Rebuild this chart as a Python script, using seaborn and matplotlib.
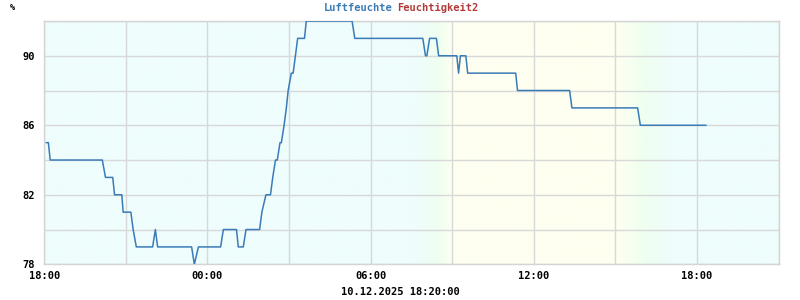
import numpy as np
import pandas as pd
import matplotlib
matplotlib.use("Agg")
import matplotlib.pyplot as plt
import matplotlib.dates as mdates
from matplotlib.colors import to_rgb
import seaborn as sns

# ---- data ----
times = [
    "2025-12-09 18:04", "2025-12-09 18:09", "2025-12-09 18:13", "2025-12-09 20:08",
    "2025-12-09 20:15", "2025-12-09 20:31", "2025-12-09 20:35", "2025-12-09 20:51",
    "2025-12-09 20:54", "2025-12-09 21:11", "2025-12-09 21:16", "2025-12-09 21:23",
    "2025-12-09 21:59", "2025-12-09 22:05", "2025-12-09 22:10", "2025-12-09 23:25",
    "2025-12-09 23:31", "2025-12-09 23:40", "2025-12-10 00:29", "2025-12-10 00:35",
    "2025-12-10 01:04", "2025-12-10 01:08", "2025-12-10 01:19", "2025-12-10 01:25",
    "2025-12-10 01:55", "2025-12-10 02:00", "2025-12-10 02:09", "2025-12-10 02:19",
    "2025-12-10 02:24", "2025-12-10 02:30", "2025-12-10 02:34", "2025-12-10 02:40",
    "2025-12-10 02:43", "2025-12-10 02:49", "2025-12-10 02:54", "2025-12-10 02:58",
    "2025-12-10 03:05", "2025-12-10 03:09", "2025-12-10 03:14", "2025-12-10 03:19",
    "2025-12-10 03:34", "2025-12-10 03:38", "2025-12-10 05:19", "2025-12-10 05:25",
    "2025-12-10 07:55", "2025-12-10 08:01", "2025-12-10 08:04", "2025-12-10 08:10",
    "2025-12-10 08:25", "2025-12-10 08:30", "2025-12-10 09:10", "2025-12-10 09:14",
    "2025-12-10 09:18", "2025-12-10 09:30", "2025-12-10 09:34", "2025-12-10 11:20",
    "2025-12-10 11:24", "2025-12-10 13:19", "2025-12-10 13:24", "2025-12-10 15:49",
    "2025-12-10 15:55", "2025-12-10 18:20",
]
humidity = [
    85, 85, 84, 84,
    83, 83, 82, 82,
    81, 81, 80, 79,
    79, 80, 79, 79,
    78, 79, 79, 80,
    80, 79, 79, 80,
    80, 81, 82, 82,
    83, 84, 84, 85,
    85, 86, 87, 88,
    89, 89, 90, 91,
    91, 92, 92, 91,
    91, 90, 90, 91,
    91, 90, 90, 89,
    90, 90, 89, 89,
    88, 88, 87, 87,
    86, 86,
]
title_left = "Luftfeuchte"
title_right = "Feuchtigkeit2"
y_unit = "%"
timestamp = "10.12.2025 18:20:00"
x_start = "2025-12-09 18:00"
x_end = "2025-12-10 21:00"
y_min, y_max = 78, 92
y_label_ticks = [78, 82, 86, 90]

# background day/night gradient stops
bg_times = ["2025-12-09 18:00", "2025-12-10 07:35", "2025-12-10 08:30", "2025-12-10 09:00",
            "2025-12-10 15:05", "2025-12-10 16:05", "2025-12-10 17:05", "2025-12-10 21:00"]
bg_colors = ["#effdfd", "#effdfd", "#eefff0", "#fefff0",
             "#fefff0", "#eefff0", "#effdfd", "#effdfd"]

# ---- plot ----
sns.set_style("white")
plt.rcParams["font.family"] = ["DejaVu Sans Mono", "DejaVu Sans"]
plt.rcParams["font.weight"] = "bold"

df = pd.DataFrame({"time": pd.to_datetime(times), "value": humidity})

fig = plt.figure(figsize=(8, 3), dpi=100)
ax = fig.add_axes([44.3 / 800, 1 - 264.3 / 300, (778.6 - 44.3) / 800, (264.3 - 21) / 300])

xs = mdates.date2num(pd.to_datetime(x_start))
xe = mdates.date2num(pd.to_datetime(x_end))
stop_x = mdates.date2num(pd.to_datetime(bg_times))
grid_x = np.linspace(xs, xe, 1000)
rgb = np.array([to_rgb(c) for c in bg_colors])
img = np.stack([np.interp(grid_x, stop_x, rgb[:, k]) for k in range(3)], axis=-1)[None, :, :]
ax.imshow(img, extent=[xs, xe, y_min, y_max], aspect="auto", zorder=0, interpolation="bilinear")

sns.lineplot(data=df, x="time", y="value", ax=ax, color="#3a7bb8", linewidth=1.1, zorder=3)

ax.set_xlim(xs, xe)
ax.set_ylim(y_min, y_max)
ax.set_xlabel("")
ax.set_ylabel("")

ax.xaxis.set_major_locator(mdates.HourLocator(byhour=[0, 6, 12, 18]))
ax.xaxis.set_major_formatter(mdates.DateFormatter("%H:%M"))
ax.xaxis.set_minor_locator(mdates.HourLocator(byhour=range(0, 24, 3)))
ax.set_yticks(y_label_ticks)
ax.set_yticks(np.arange(y_min, y_max + 1, 2), minor=True)

ax.grid(True, which="both", color="#d8d8d8", linewidth=1.0, zorder=1)
ax.set_axisbelow(True)
for sp in ax.spines.values():
    sp.set_color("#d4d4d4")
    sp.set_linewidth(1.0)

ax.tick_params(axis="both", which="both", length=0, labelsize=7.5, labelcolor="black")
ax.tick_params(axis="y", pad=7)
ax.tick_params(axis="x", pad=5)
for lab in ax.get_xticklabels() + ax.get_yticklabels():
    lab.set_fontweight("bold")

fig.text(393 / 800, 1 - 8 / 300, title_left, color="#3a7ab5", ha="right", va="center",
         fontsize=7.5, fontweight="bold")
fig.text(397 / 800, 1 - 8 / 300, title_right, color="#b33a3a", ha="left", va="center",
         fontsize=7.5, fontweight="bold")
fig.text(12 / 800, 1 - 7 / 300, y_unit, color="black", ha="center", va="center",
         fontsize=6, fontweight="bold")
fig.text(400 / 800, 1 - 292 / 300, timestamp, color="black", ha="center", va="center",
         fontsize=7.5, fontweight="bold")

fig.savefig("out.png", dpi=100, facecolor="white")
